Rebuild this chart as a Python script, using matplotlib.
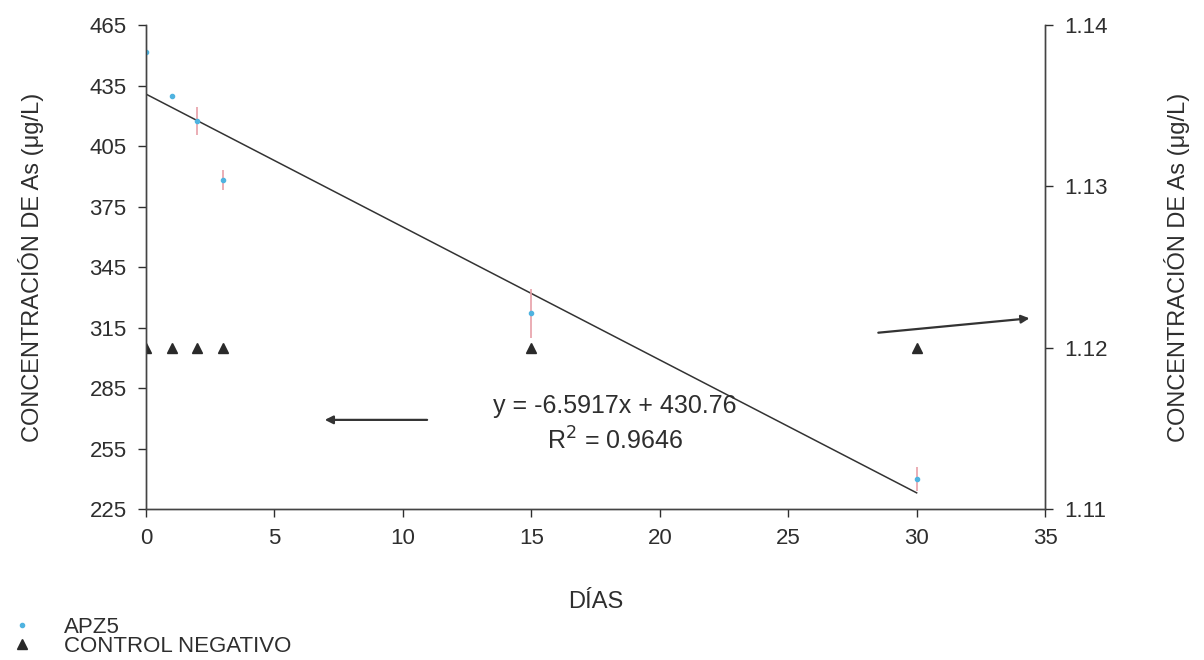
import matplotlib
matplotlib.use("Agg")
import matplotlib.pyplot as plt
from matplotlib.lines import Line2D
import numpy as np

plt.rcParams['font.family'] = ['Liberation Sans', 'DejaVu Sans']

dias = [0, 1, 2, 3, 15, 30]
apz5 = [451.6, 429.8, 417.4, 388.0, 322.0, 240.0]
apz5_err = [0.0, 0.0, 7.0, 5.0, 12.0, 6.0]
control = [1.12, 1.12, 1.12, 1.12, 1.12, 1.12]
slope, intercept = -6.5917, 430.76

left_yticks = [225, 255, 285, 315, 345, 375, 405, 435, 465]
right_yticks = [1.11, 1.12, 1.13, 1.14]
xticks = [0, 5, 10, 15, 20, 25, 30, 35]

fig = plt.figure(figsize=(12.04, 6.6), dpi=100)
ax = fig.add_axes([0.1213, 0.2288, 0.7467, 0.7332])
ax2 = ax.twinx()

fs_tick = 16
fs_lab = 17
fs_eq = 18
fs_leg = 16
txtc = '#2e2e2e'
ax.errorbar(dias, apz5, yerr=apz5_err, fmt='o', color='#4fb3e0', ms=3,
            ecolor='#e8a0a8', elinewidth=1.2, capsize=0, zorder=3)
xl = np.array([dias[0], dias[-1]])
ax.plot(xl, slope * xl + intercept, color='#333333', lw=1.1, zorder=2)
ax2.plot(dias, control, linestyle='none', marker='^', color='#2a2a2a', ms=7)

ax.set_xlim(0, 35)
ax.set_ylim(225, 465)
ax2.set_ylim(1.11, 1.14)
ax.set_xticks(xticks)
ax.set_yticks(left_yticks)
ax2.set_yticks(right_yticks)
ax2.set_yticklabels(['1.11', '1.12', '1.13', '1.14'])

for a in (ax, ax2):
    a.spines['top'].set_visible(False)
    for s in a.spines.values():
        s.set_color('#444444')
        s.set_linewidth(1.0)
    a.tick_params(labelsize=fs_tick, colors=txtc, length=6, width=1.0,
                  direction='out')
ax.tick_params(axis='x', pad=8)
ax.tick_params(axis='y', pad=8)
ax2.tick_params(axis='y', pad=8)

ax.set_xlabel('DÍAS', fontsize=fs_lab, color=txtc, labelpad=30)
ax.set_ylabel('CONCENTRACIÓN DE As (μg/L)', fontsize=fs_lab, color=txtc, labelpad=33)
ax2.set_ylabel('CONCENTRACIÓN DE As (μg/L)', fontsize=fs_lab, color=txtc, labelpad=40)

ax.text(18.26, 276.2, 'y = -6.5917x + 430.76', fontsize=fs_eq, color=txtc,
        ha='center', va='center')
ax.text(18.26, 258.6, 'R$^2$ = 0.9646', fontsize=fs_eq, color=txtc,
        ha='center', va='center')

ax.annotate('', xy=(6.85, 269.2), xytext=(11.05, 269.2),
            arrowprops=dict(arrowstyle='-|>', color='#333333', lw=1.6,
                            mutation_scale=12))
ax.annotate('', xy=(34.5, 319.7), xytext=(28.4, 312.3),
            arrowprops=dict(arrowstyle='-|>', color='#333333', lw=1.6,
                            mutation_scale=12))

handles = [Line2D([], [], linestyle='none', marker='o', color='#4fb3e0', ms=3),
           Line2D([], [], linestyle='none', marker='^', color='#2a2a2a', ms=7)]
labels = ['APZ5', 'CONTROL NEGATIVO']
fig.legend(handles, labels, loc='lower left', bbox_to_anchor=(0.005, -0.002),
           frameon=False, fontsize=fs_leg, handlelength=1.0, handletextpad=1.4,
           labelspacing=-0.1, borderaxespad=0.0, borderpad=0.2,
           labelcolor=txtc)

fig.savefig('out.png', dpi=100)
